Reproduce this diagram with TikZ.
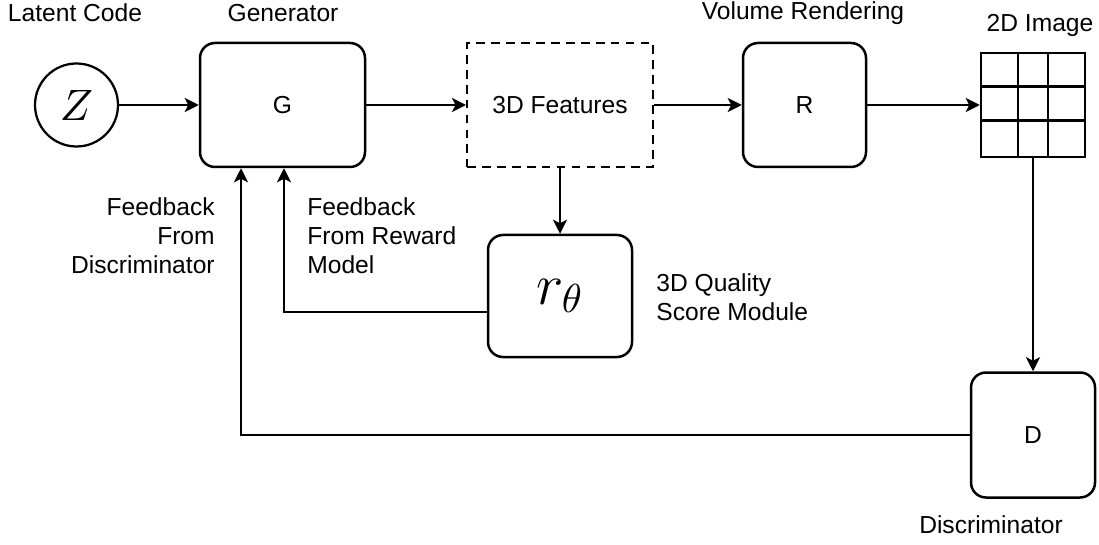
\documentclass[tikz,border=0pt]{standalone}
\usepackage{fontspec}
\setmainfont{Liberation Sans}
\usetikzlibrary{arrows.meta}

\begin{document}
\begin{tikzpicture}[
		box/.style={draw, line width=0.5mm, align=center, font=\fontsize{14}{16.5}\selectfont},
		rbox/.style={box, rounded corners=0.3cm},
		lbl/.style={font=\fontsize{14}{16.5}\selectfont, inner sep=0pt},
		arr/.style={line width=0.45mm, -{Stealth[length=8pt,width=8pt,inset=2pt]}},
		wire/.style={line width=0.5mm}
	]
		%%%%% START %%%%%
		\useasboundingbox (0, 0) rectangle (21.98, 10.88);
		
		\node[lbl] (latentlbl) at (1.5, 10.62) {Latent Code};
		\node[lbl] (genlbl) at (5.66, 10.62) {Generator};
		\node[lbl] (rendlbl) at (16.06, 10.62) {Volume Rendering};
		\node[lbl] (imglbl) at (20.8, 10.38) {2D Image};
		
		\node[draw, circle, line width=0.45mm, minimum size=1.66cm, inner sep=0pt] (z) at (1.53, 8.78) {\scalebox{2.5}{$Z$}};
		\node[rbox, minimum width=3.3cm, minimum height=2.48cm] (gen) at (5.65, 8.78) {G};
		\node[box, dash pattern=on 5pt off 3.5pt, line width=0.4mm, minimum width=3.72cm, minimum height=2.48cm] (feat) at (11.2, 8.78) {3D Features};
		\node[rbox, minimum width=2.46cm, minimum height=2.48cm] (rend) at (16.09, 8.78) {R};
		
		% image grid
		\node[draw, line width=0.5mm, minimum size=2.08cm, inner sep=0pt] (img) at (20.66, 8.78) {};
		\foreach \gx in {0.76, 1.36}
			\draw[wire] ([xshift=\gx cm]img.north west) -- ([xshift=\gx cm]img.south west);
		\foreach \gy in {0.7, 1.38}
			\draw[wire] ([yshift=-\gy cm]img.north west) -- ([yshift=-\gy cm]img.north east);
		
		\node[rbox, minimum width=2.88cm, minimum height=2.44cm] (rt) at (11.2, 4.96) {\scalebox{2.3}{$r_\theta$}};
		\node[lbl, anchor=west, align=left] (rtlbl) at (13.12, 4.94) {3D Quality\\Score Module};
		
		\node[rbox, minimum width=2.48cm, minimum height=2.5cm] (disc) at (20.66, 2.18) {D};
		\node[lbl] (disclbl) at (19.82, 0.38) {Discriminator};
		
		\node[lbl, anchor=west, align=left] (fbrew) at (6.14, 6.16) {Feedback\\From Reward\\Model};
		\node[lbl, anchor=east, align=right] (fbdisc) at (4.3, 6.16) {Feedback\\From\\Discriminator};
		
		\draw[arr] (z) -- (gen);
		\draw[arr] (gen) -- (feat);
		\draw[arr] (feat) -- (rend);
		\draw[arr] (rend) -- (img);
		\draw[arr] (feat) -- (rt);
		\draw[arr] (img) -- (disc);
		
		\draw[arr] ([yshift=-0.32cm]rt.west) -| ([xshift=0.03cm]gen.south);
		\draw[arr] (disc.west) -| ([xshift=-0.83cm]gen.south);
		
		%%%%% END %%%%%
	\end{tikzpicture}
\end{document}
